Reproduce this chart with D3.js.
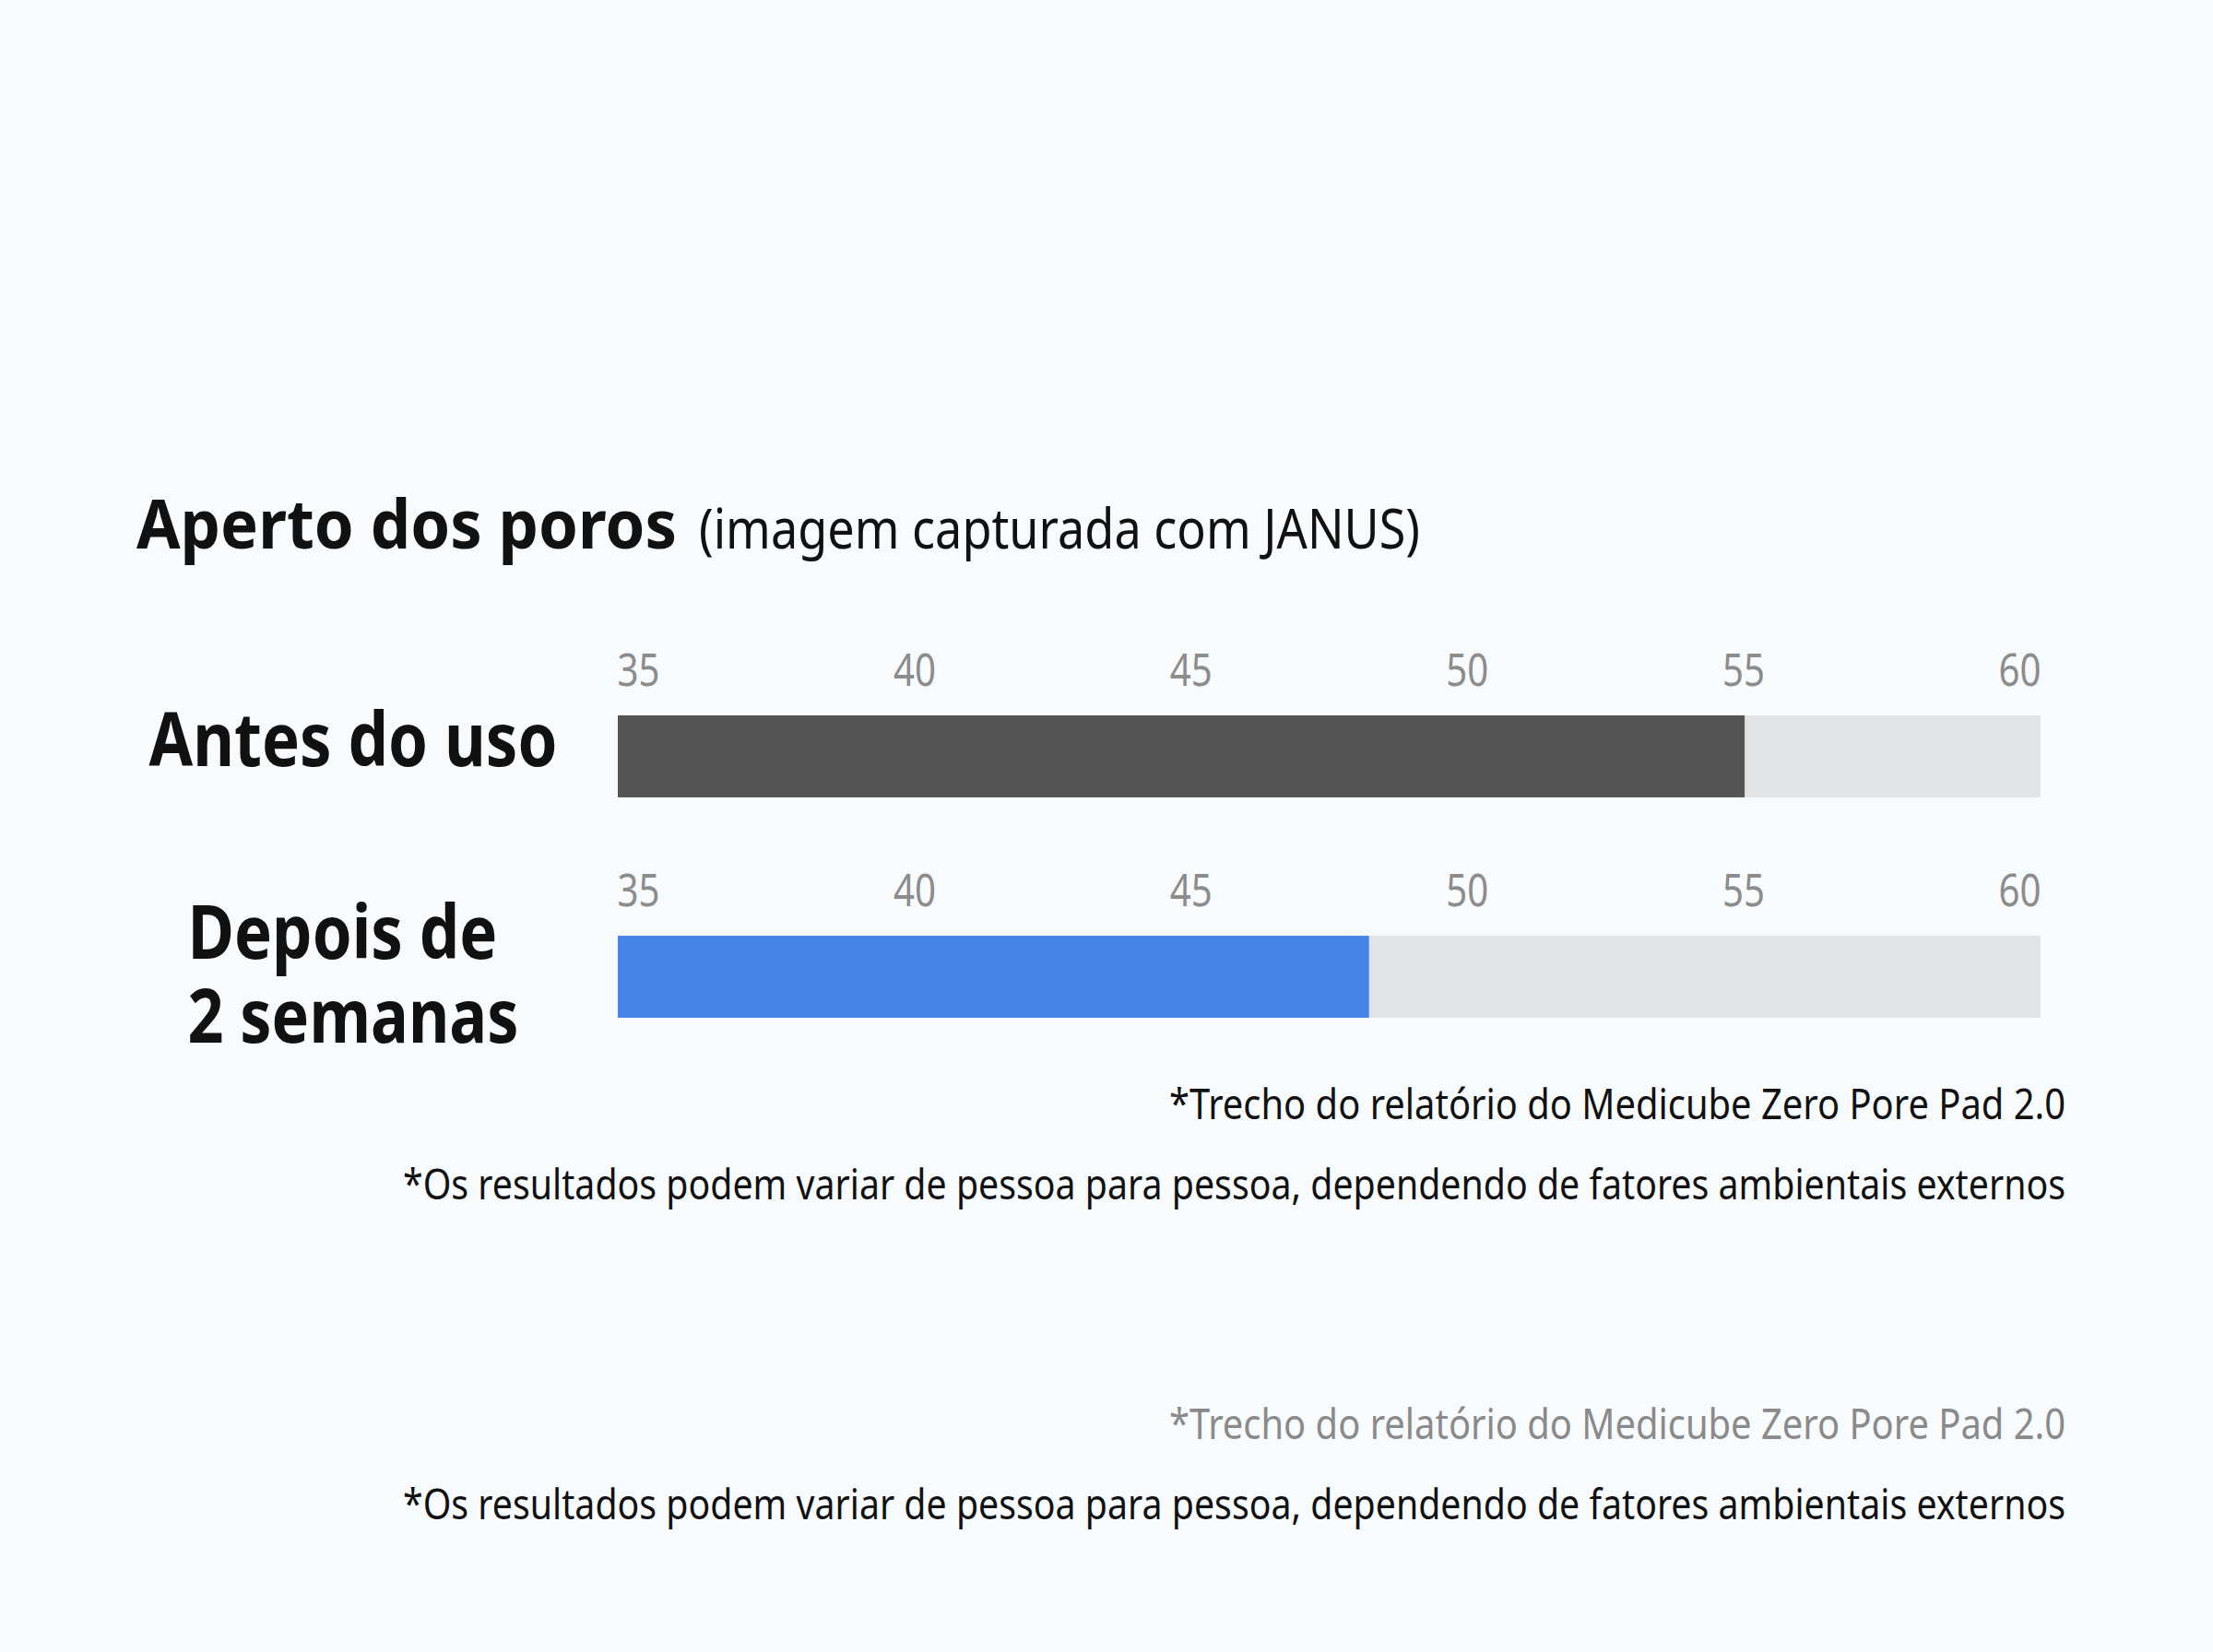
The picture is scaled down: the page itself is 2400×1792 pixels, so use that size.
<!DOCTYPE html>
<html lang="pt">
<head>
  <meta charset="UTF-8">
  <title>Aperto dos poros</title>
  <script src="https://d3js.org/d3.v7.min.js"></script>
  <style>
    html, body {
      margin: 0;
      padding: 0;
      background: #f8fbfd;
    }
    svg {
      display: block;
      font-family: "Noto Sans", "Open Sans", sans-serif;
    }
    .tick text {
      fill: #8c8c8c;
      font-size: 49px;
    }
  </style>
</head>
<body>
  <svg width="2400" height="1792"></svg>

  <script>
    // data
    const categories = ["Antes do uso", "Depois de 2 semanas"];
    const labelLines = [["Antes do uso"], ["Depois de", "2 semanas"]];
    const values = [54.8, 48.2];
    const domain = [35, 60];
    const tickValues = [35, 40, 45, 50, 55, 60];
    const barColors = ["#555555", "#4685e8"];
    const trackColor = "#e2e3e5";

    const title = "Aperto dos poros";
    const subtitle = "(imagem capturada com JANUS)";
    const notes = [
      { text: "*Trecho do relatório do Medicube Zero Pore Pad 2.0", color: "#111" },
      { text: "*Os resultados podem variar de pessoa para pessoa, dependendo de fatores ambientais externos", color: "#111" },
      { text: "*Trecho do relatório do Medicube Zero Pore Pad 2.0", color: "#8a8a8a" },
      { text: "*Os resultados podem variar de pessoa para pessoa, dependendo de fatores ambientais externos", color: "#111" }
    ];

    // the reference type is condensed; squeeze the widths to match it
    const fit = {
      "Aperto dos poros": 586,
      "(imagem capturada com JANUS)": 782,
      "Antes do uso": 443,
      "Depois de": 336,
      "2 semanas": 359,
      "*Trecho do relatório do Medicube Zero Pore Pad 2.0": 972,
      "*Os resultados podem variar de pessoa para pessoa, dependendo de fatores ambientais externos": 1803
    };
    const squeeze = (sel, w) => sel.attr("textLength", w).attr("lengthAdjust", "spacingAndGlyphs");

    const svg = d3.select("svg");

    const x = d3.scaleLinear().domain(domain).range([670, 2213]);
    // tick labels sit slightly inside the bar ends
    const xLabel = d3.scaleLinear().domain(domain).range([692, 2190]);

    const y = d3.scaleBand()
      .domain(categories)
      .range([776, 1104])
      .paddingInner(0.628)
      .paddingOuter(0);

    // title
    svg.append("text")
      .attr("x", 148)
      .attr("y", 595)
      .attr("font-size", 73)
      .attr("font-weight", 700)
      .attr("fill", "#111")
      .text(title)
      .call(squeeze, fit[title]);
    svg.append("text")
      .attr("x", 758)
      .attr("y", 595)
      .attr("font-size", 61)
      .attr("fill", "#111")
      .text(subtitle)
      .call(squeeze, fit[subtitle]);

    const rows = svg.append("g")
      .selectAll("g")
      .data(categories)
      .enter().append("g")
      .attr("transform", d => `translate(0,${y(d)})`);

    // grey track
    rows.append("rect")
      .attr("x", x(domain[0]))
      .attr("width", x(domain[1]) - x(domain[0]))
      .attr("height", y.bandwidth())
      .attr("fill", trackColor);

    // value bar
    rows.append("rect")
      .attr("x", x(domain[0]))
      .attr("width", (d, i) => x(values[i]) - x(domain[0]))
      .attr("height", y.bandwidth())
      .attr("fill", (d, i) => barColors[i]);

    // axis above each bar
    rows.append("g")
      .attr("transform", "translate(0,-32)")
      .each(function () {
        d3.select(this)
          .call(d3.axisTop(xLabel).tickValues(tickValues).tickSize(0).tickPadding(0))
          .attr("font-family", null)
          .attr("font-size", null)
          .call(g => g.select(".domain").remove())
          .call(g => g.selectAll("text").call(squeeze, 46));
      });

    // category labels: a left-aligned block centred in the space left of the bars
    const labelCenter = 383;
    rows.each(function (d, i) {
      const lines = labelLines[i];
      const lh = 91;
      const mid = y.bandwidth() / 2;
      const first = mid - (lines.length - 1) * lh / 2 + (lines.length === 1 ? 11 : 26);
      const blockW = d3.max(lines, l => fit[l]);
      d3.select(this).selectAll("text.cat")
        .data(lines)
        .enter().append("text")
        .attr("class", "cat")
        .attr("x", labelCenter - blockW / 2)
        .attr("y", (l, j) => first + j * lh)
        .attr("font-size", 81)
        .attr("font-weight", 700)
        .attr("fill", "#111")
        .text(l => l)
        .each(function (l) { squeeze(d3.select(this), fit[l]); });
    });

    // footnotes, right aligned
    const noteY = [1214, 1301, 1561, 1648];
    svg.append("g")
      .selectAll("text")
      .data(notes)
      .enter().append("text")
      .attr("x", 2240)
      .attr("y", (d, i) => noteY[i])
      .attr("text-anchor", "end")
      .attr("font-size", 46)
      .attr("fill", d => d.color)
      .text(d => d.text)
      .each(function (d) { squeeze(d3.select(this), fit[d.text]); });
  </script>
</body>
</html>
